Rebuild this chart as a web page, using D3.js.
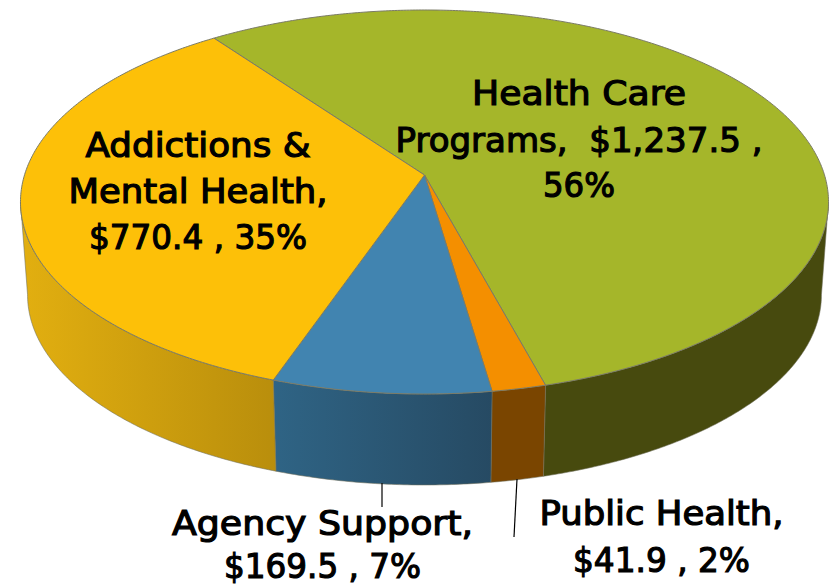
<!DOCTYPE html>
<html><head><meta charset="utf-8">
<script src="https://cdn.jsdelivr.net/npm/d3@7"></script>
<style>html,body{margin:0;padding:0;background:#fff;overflow:hidden}svg{display:block}
text{font-family:"DejaVu Sans",sans-serif;font-weight:400;font-size:33.5px;fill:#000;stroke:#000;stroke-width:1.2px;text-anchor:middle;white-space:pre}</style>
</head><body><svg id="c" width="833" height="586"></svg>
<script>
const categories=["Health Care Programs","Public Health","Agency Support","Addictions & Mental Health"];
const values=[1237.5,41.9,169.5,770.4];
const percents=["56%","2%","7%","35%"];
const topColors=["#A5B62A","#F48F00","#4184B0","#FDC008"];
const wallStops=[["#474A0E","#474A0E"],["#7A4500","#7A4500"],["#2F6485","#264A63"],["#E2AF10","#B98E0C"]];

const svg=d3.select("#c");
const rad=Math.PI/180;
const pie=d3.pie().sort(null).value(d=>d).startAngle(-35.9*rad).endAngle(324.1*rad);
const arcs=pie(values);

// perspective projection of the pie's disc: a = clockwise from north
const P=-0.1406;
const project=(cx,k,a,b)=>t=>{const u=Math.sin(t),v=-Math.cos(t),w=1+P*v;return [cx+k*u/w,(a*v+b)/w];};
const topP=project(424.5,400,163.6,175);
const botP=project(424.5,393,148.5,268.3);
const line=d3.line();
const sample=(s,e)=>d3.range(0,1.0001,1/Math.max(2,Math.ceil((e-s)/(0.5*rad)))).map(f=>s+(e-s)*f);

// side wall
const defs=svg.append("defs");
const visS=98*rad,visE=262*rad;
arcs.forEach((d,i)=>{
  const s=Math.max(d.startAngle,visS),e=Math.min(d.endAngle,visE);
  if(e<=s)return;
  const ts=sample(s,e);
  const topPts=ts.map(topP),botPts=ts.map(botP).reverse();
  const all=topPts.concat(botPts);
  const [x0,x1]=d3.extent(all,p=>p[0]);
  const id="w"+i;
  const g=defs.append("linearGradient").attr("id",id).attr("gradientUnits","userSpaceOnUse")
    .attr("x1",x0).attr("x2",x1).attr("y1",0).attr("y2",0);
  g.append("stop").attr("offset",0).attr("stop-color",wallStops[i][0]);
  g.append("stop").attr("offset",1).attr("stop-color",wallStops[i][1]);
  svg.append("path").attr("d",line(all)+"Z").attr("fill",`url(#${id})`)
    .attr("stroke","#6f6f5c").attr("stroke-width",0.8).attr("stroke-opacity",0.7);
});

// top face
const apex=[424.5,175];
arcs.forEach((d,i)=>{
  const pts=[apex].concat(sample(d.startAngle,d.endAngle).map(topP));
  svg.append("path").attr("d",line(pts)+"Z").attr("fill",topColors[i])
    .attr("stroke","#7b7b66").attr("stroke-width",1).attr("stroke-linejoin","round");
});

// leader lines
[[382,483,382,507],[517,479,514,537]].forEach(l=>svg.append("line")
  .attr("x1",l[0]).attr("y1",l[1]).attr("x2",l[2]).attr("y2",l[3])
  .attr("stroke","#000").attr("stroke-width",1.2));

// labels
const fmt=d3.format("$,.1f");
const labelLines=[
  [categories[0].replace(" Programs",""),`Programs,  ${fmt(values[0])} ,`,percents[0]],
  [`${categories[1]},`,`${fmt(values[1])} , ${percents[1]}`],
  [`${categories[2]},`,`${fmt(values[2])} , ${percents[2]}`],
  ["Addictions &","Mental Health,",`${fmt(values[3])} , ${percents[3]}`]
];
const labelPos=[[579,[105,152,197]],[661.5,[525,572]],[322.5,[535,578]],[198,[157,203,249]]];
const labelWidths=[[214,367,72],[244,177],[301,197],[225,259,218]];
labelLines.forEach((ls,i)=>ls.forEach((t,j)=>svg.append("text")
  .attr("x",labelPos[i][0]).attr("y",labelPos[i][1][j])
  .attr("textLength",labelWidths[i][j]).attr("lengthAdjust","spacingAndGlyphs").text(t)));
</script></body></html>
